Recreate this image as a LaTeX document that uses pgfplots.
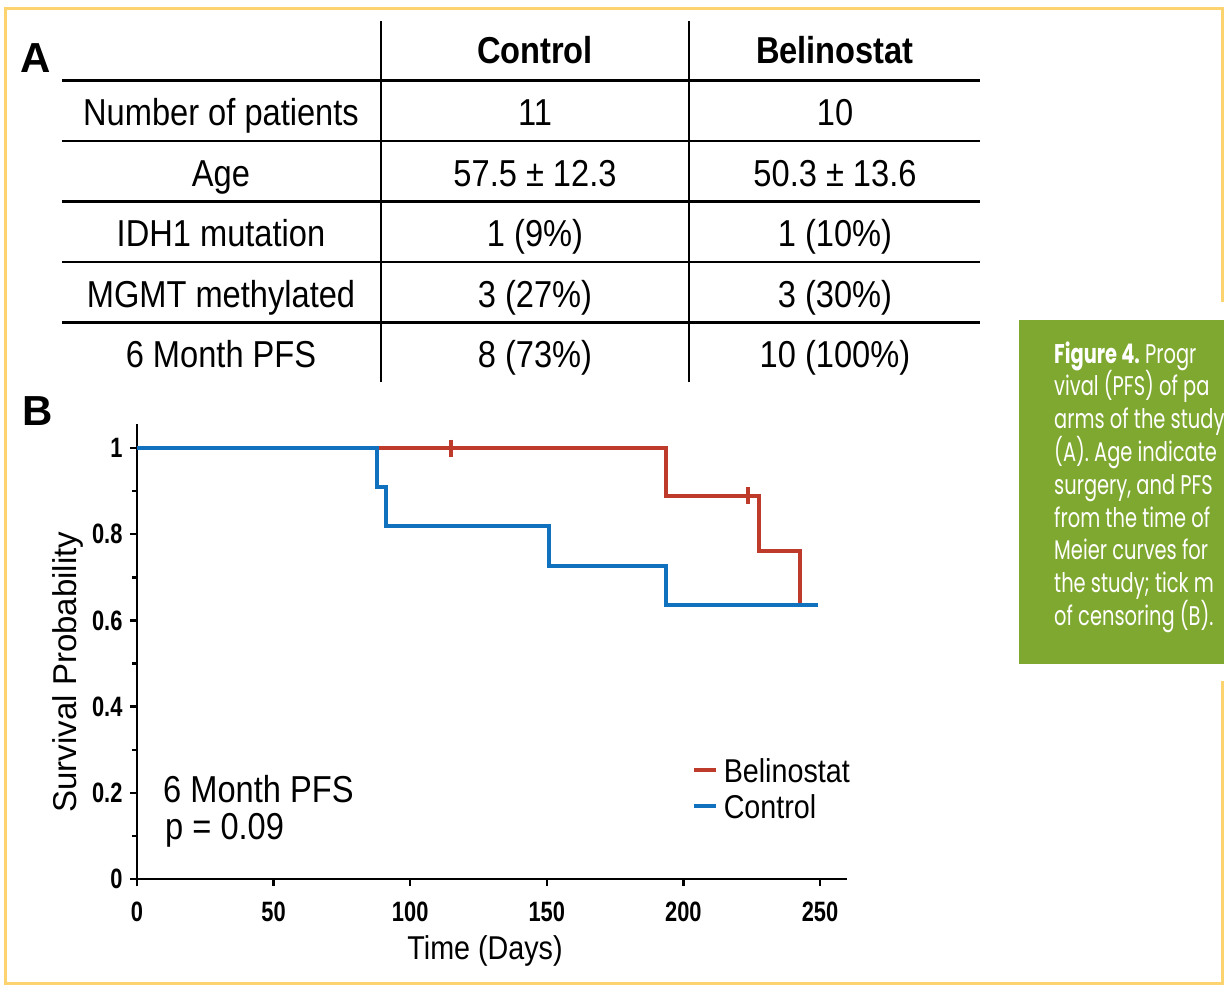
\documentclass[border=0pt]{standalone}
\usepackage{pgfplots}
\pgfplotsset{compat=1.18}
\usepackage{fontspec}
\setmainfont{Liberation Sans}[FakeStretch=0.87]
\newfontfamily\plainsans{Liberation Sans}
\newfontfamily\tickfont{Liberation Sans}[FakeStretch=0.78]
\newfontfamily\capfont{Poppins}[FakeStretch=0.72]
\definecolor{frameY}{RGB}{252,211,110}
\definecolor{capG}{RGB}{127,168,48}
\definecolor{belR}{RGB}{190,58,42}
\definecolor{conB}{RGB}{16,114,190}
\newcommand{\tf}{\fontsize{37.5}{40}\selectfont}
\newcommand{\cf}{\capfont\fontsize{27}{27}\selectfont}
\begin{document}
\begin{tikzpicture}[x=1pt,y=1pt]
\useasboundingbox (0,0) rectangle (1224,-986);
\fill[white] (0,0) rectangle (1224,-986);
% frame
\draw[frameY, line width=3.5pt] (1222.5,-302) -- (1222.5,-8.5) -- (5.5,-8.5) -- (5.5,-983.5) -- (1222.5,-983.5) -- (1222.5,-681);
% table A
\begin{scope}[line width=2.3pt, black]
\foreach \y in {80.5,141,201.5,262,322.5} \draw (62,-\y) -- (980,-\y);
\draw (381,-21) -- (381,-382);
\draw (689,-21) -- (689,-382);
\end{scope}
\node[anchor=base west, inner sep=0] at (20,-72) {\plainsans\fontsize{42}{42}\selectfont\bfseries A};
\node[anchor=base west, inner sep=0] at (22,-425) {\plainsans\fontsize{42}{42}\selectfont\bfseries B};
\node[anchor=base, inner sep=0] at (535,-63) {\tf\bfseries Control};
\node[anchor=base, inner sep=0] at (835,-63) {\tf\bfseries Belinostat};
\node[anchor=base, inner sep=0] at (221,-125) {\tf Number of patients};
\node[anchor=base, inner sep=0] at (535,-125) {\tf 11};
\node[anchor=base, inner sep=0] at (835,-125) {\tf 10};
\node[anchor=base, inner sep=0] at (221,-186) {\tf Age};
\node[anchor=base, inner sep=0] at (535,-186) {\tf 57.5 ± 12.3};
\node[anchor=base, inner sep=0] at (835,-186) {\tf 50.3 ± 13.6};
\node[anchor=base, inner sep=0] at (221,-246) {\tf IDH1 mutation};
\node[anchor=base, inner sep=0] at (535,-246) {\tf 1 (9\%)};
\node[anchor=base, inner sep=0] at (835,-246) {\tf 1 (10\%)};
\node[anchor=base, inner sep=0] at (221,-307) {\tf MGMT methylated};
\node[anchor=base, inner sep=0] at (535,-307) {\tf 3 (27\%)};
\node[anchor=base, inner sep=0] at (835,-307) {\tf 3 (30\%)};
\node[anchor=base, inner sep=0] at (221,-367) {\tf 6 Month PFS};
\node[anchor=base, inner sep=0] at (535,-367) {\tf 8 (73\%)};
\node[anchor=base, inner sep=0] at (835,-367) {\tf 10 (100\%)};
% caption box
\fill[capG] (1019,-320) rectangle (1224,-664);
\begin{scope}
\clip (1019,-320) rectangle (1224,-664);
\foreach \i/\t in {0/{\bfseries Figure 4.}\mdseries\ Progr, 1/vival (PFS) of pa, 2/arms of the study, 3/(A). Age indicate, 4/surgery{,} and PFS, 5/from the time of, 6/Meier curves for, 7/the study; tick m, 8/of censoring (B).}
  \node[anchor=base west, inner sep=0, white] at (1054,-363-32.8*\i) {\cf \t};
\end{scope}
% text in plot
\node[anchor=base west, inner sep=0] at (163,-802) {\fontsize{37.5}{40}\selectfont 6 Month PFS};
\node[anchor=base west, inner sep=0] at (165,-839) {\fontsize{37.5}{40}\selectfont p = 0.09};
\begin{axis}[at={(137pt,-879pt)}, anchor=origin,
  x=2.732pt, y=431pt,
  xmin=0, xmax=260, ymin=0, ymax=1.055,
  clip=false,
  axis lines=left,
  axis line style={line width=2.4pt, -},
  every tick/.style={black, line width=2.4pt},
  tick align=outside,
  major tick length=7pt,
  minor tick length=4.5pt,
  xtick={0,50,100,150,200,250},
  ytick={0,0.2,0.4,0.6,0.8,1},
  minor ytick={0.1,0.3,0.5,0.7,0.9},
  /pgf/number format/assume math mode=true,
  ticklabel style={font=\tickfont\fontsize{28}{28}\selectfont\bfseries},
  xticklabel style={yshift=-12pt},
  yticklabel style={xshift=-4pt},
  xlabel={Time (Days)},
  ylabel={\plainsans Survival Probability},
  label style={font=\fontsize{33}{33}\selectfont},
  xlabel style={at={(axis description cs:0.49,-0.158)}, anchor=center},
  ylabel style={at={(axis description cs:-0.0965,0.455)}, anchor=center},
  legend style={at={(axis cs:202.8,0.281)}, anchor=north west, draw=none, fill=none,
    font=\fontsize{33}{33}\selectfont, inner sep=0pt, row sep=12pt,
    nodes={inner sep=0pt, text height=24pt, text depth=0pt},
    /tikz/every odd column/.append style={column sep=6pt}},
  legend cell align=left,
  legend image code/.code={\draw[#1, line width=4.5pt] (0pt,0pt) -- (22pt,0pt);},
]
\addplot[belR, line width=4pt] coordinates {(0,1) (193.6,1) (193.6,0.889) (227.5,0.889) (227.5,0.762) (242.5,0.762) (242.5,0.635) (249.4,0.635)};
\addlegendentry{Belinostat}
\addplot[conB, line width=4pt] coordinates {(0,1) (87.8,1) (87.8,0.909) (91.1,0.909) (91.1,0.818) (150.8,0.818) (150.8,0.727) (193.6,0.727) (193.6,0.636) (249.4,0.636)};
\addlegendentry{Control}
\addplot[belR, line width=4pt, only marks, mark=|, mark size=8.5pt, forget plot] coordinates {(115,1) (223.6,0.889)};
\end{axis}
\end{tikzpicture}
\end{document}
